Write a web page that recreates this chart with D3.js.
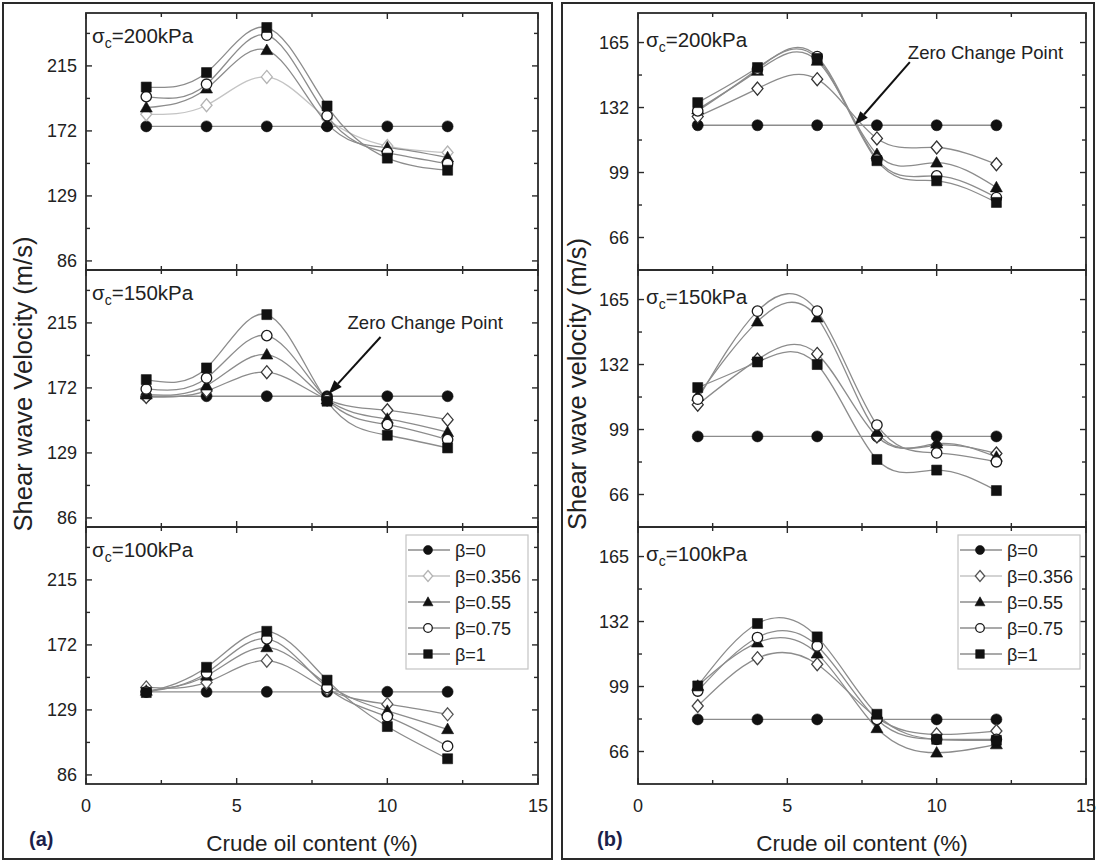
<!DOCTYPE html>
<html>
<head>
<meta charset="utf-8">
<script src="https://cdn.jsdelivr.net/npm/d3@7"></script>
<style>
  body { margin: 0; background: #fff; }
  svg { display: block; }
  text { font-family: "Liberation Sans", Arial, Helvetica, sans-serif; fill: #222; }
</style>
</head>
<body>
<svg id="chart" width="1099" height="862"></svg>
<script>
// ---- data -------------------------------------------------------------
const crudeOil = [2, 4, 6, 8, 10, 12];                 // crude oil content (%)
const betaLabels = ["β=0", "β=0.356", "β=0.55", "β=0.75", "β=1"];
const pressureLabels = ["200kPa", "150kPa", "100kPa"];

const xTicks = [0, 5, 10, 15];
const xMinorTicks = [2.5, 7.5, 12.5];
const yTicksA = [86, 129, 172, 215];
const yMinorA = [107.5, 150.5, 193.5, 236.5];
const yTicksB = [66, 99, 132, 165];
const yMinorB = [82.5, 115.5, 148.5];

// (a) shear wave velocity, one row per beta
const velA200 = [
  [175, 175, 175, 175, 175, 175],
  [183, 189, 207.7, 180, 162, 157.7],
  [187.4, 200, 225.4, 177, 161, 154.4],
  [194.7, 202.9, 235.3, 182, 157.7, 150.4],
  [201, 210.6, 240.4, 188.5, 154, 146]
];
const velA150 = [
  [166.5, 166.5, 166.5, 166.5, 166.5, 166.5],
  [166, 170, 182.4, 164.3, 157.2, 151],
  [167.6, 173.5, 194, 164.3, 151.5, 142.7],
  [171.3, 178.6, 206.6, 164.3, 147.7, 137.8],
  [177.5, 185.2, 220.5, 163.2, 140.7, 132.3]
];
const velA100 = [
  [141, 141, 141, 141, 141, 141],
  [143.9, 147.2, 161.6, 142.7, 132.8, 126.1],
  [141.6, 151.6, 170.4, 146, 128.3, 116.2],
  [141, 153.4, 176, 143.9, 124.6, 105],
  [140.5, 157.2, 181, 148.7, 118, 96.7]
];

// (b) shear wave velocity, one row per beta
const velB200 = [
  [123, 123, 123, 123, 123, 123],
  [127.4, 141.6, 146.4, 116.3, 111.7, 103.2],
  [131, 150.6, 155.7, 108.3, 104, 91.4],
  [130.3, 151.5, 157.9, 105.8, 97.3, 86.3],
  [134.5, 152.3, 156.9, 105, 94.8, 83.8]
];
const velB150 = [
  [95.5, 95.5, 95.5, 95.5, 95.5, 95.5],
  [111.6, 134.5, 137.4, 95.5, 91, 86.8],
  [116, 153.8, 155.8, 97.7, 91.8, 85.1],
  [114.4, 159.1, 159.1, 101.3, 87.1, 82.6],
  [120.3, 133.3, 132, 83.8, 78.4, 68]
];
const velB100 = [
  [82.3, 82.3, 82.3, 82.3, 82.3, 82.3],
  [89.1, 113.4, 110.3, 83.2, 74.7, 76.4],
  [99.3, 121.3, 115.7, 77.8, 65.4, 69.6],
  [96.7, 123.9, 119.6, 82.3, 72.2, 72.2],
  [99.3, 131, 124.2, 84.9, 72.2, 71.7]
];

// ---- layout ------------------------------------------------------------
const svg = d3.select("#chart");
const rowTops = [13, 270, 527];
const rowH = 257;

const panels = [
  {
    frame: [3, 3, 549, 856], x0: 86, x1: 538, yDomain: [80, 250],
    ticks: yTicksA, minor: yMinorA, rows: [velA200, velA150, velA100],
    yTitle: "Shear wave Velocity (m/s)", yTitleX: 32, tag: "(a)", tagX: 29,
    sigmaX: 92, sigmaDy: 30,
    diamondStroke: ["#b4b4b4", "#3a3a3a", "#555"], diamondLine: ["#c4c4c4", "#8c8c8c", "#8c8c8c"],
    legendX: 406, legendDiamond: "#b4b4b4",
    note: { row: 1, x: 8.05, y: 168, tail: [52, -57], text: [19, -65] }
  },
  {
    frame: [562, 3, 532, 856], x0: 638, x1: 1086, yDomain: [49.5, 180],
    ticks: yTicksB, minor: yMinorB, rows: [velB200, velB150, velB100],
    yTitle: "Shear wave velocity (m/s)", yTitleX: 586, tag: "(b)", tagX: 597,
    sigmaX: 646, sigmaDy: 34,
    diamondStroke: ["#333", "#333", "#444"], diamondLine: ["#8c8c8c", "#8c8c8c", "#8c8c8c"],
    legendX: 958, legendDiamond: "#555",
    note: { row: 0, x: 7.26, y: 123.1, tail: [55, -63], text: [53, -66] }
  }
];

// marker shapes
const shapes = [
  "M5.5,0A5.5,5.5,0,1,1,-5.5,0A5.5,5.5,0,1,1,5.5,0Z",      // filled circle
  "M0,-6.5L5.5,0L0,6.5L-5.5,0Z",                            // diamond
  "M0,-6.2L6,4.4L-6,4.4Z",                                  // triangle
  "M5.2,0A5.2,5.2,0,1,1,-5.2,0A5.2,5.2,0,1,1,5.2,0Z",      // open circle
  "M-5,-5H5V5H-5Z"                                          // square
];
const legendShapes = [
  "M4.5,0A4.5,4.5,0,1,1,-4.5,0A4.5,4.5,0,1,1,4.5,0Z",
  "M0,-5.5L4.7,0L0,5.5L-4.7,0Z",
  "M0,-5.2L5,3.8L-5,3.8Z",
  "M4.3,0A4.3,4.3,0,1,1,-4.3,0A4.3,4.3,0,1,1,4.3,0Z",
  "M-4.3,-4.3H4.3V4.3H-4.3Z"
];
function markerStyle(sel, i, diamondStroke) {
  if (i === 1) sel.attr("fill", "#fff").attr("stroke", diamondStroke).attr("stroke-width", 1.3);
  else if (i === 3) sel.attr("fill", "#fff").attr("stroke", "#1a1a1a").attr("stroke-width", 1.3);
  else sel.attr("fill", "#111").attr("stroke", "#111").attr("stroke-width", 0.6);
}

panels.forEach(p => {
  const g = svg.append("g");
  // outer frame
  g.append("rect").attr("x", p.frame[0]).attr("y", p.frame[1])
    .attr("width", p.frame[2]).attr("height", p.frame[3])
    .attr("fill", "none").attr("stroke", "#2a2a2a").attr("stroke-width", 2);

  const x = d3.scaleLinear().domain([0, 15]).range([p.x0, p.x1]);

  p.rows.forEach((series, r) => {
    const top = rowTops[r], bottom = top + rowH;
    const y = d3.scaleLinear().domain(p.yDomain).range([bottom, top]);
    const sg = g.append("g");

    // ticks on all four sides, pointing inward
    const tk = sg.append("g").attr("stroke", "#2a2a2a").attr("stroke-width", 1.4);
    xTicks.concat(xMinorTicks).forEach(v => {
      const len = xTicks.includes(v) ? 6 : 4;
      tk.append("line").attr("x1", x(v)).attr("x2", x(v)).attr("y1", bottom).attr("y2", bottom - len);
      tk.append("line").attr("x1", x(v)).attr("x2", x(v)).attr("y1", top).attr("y2", top + len);
    });
    p.ticks.concat(p.minor).forEach(v => {
      const len = p.ticks.includes(v) ? 6 : 4;
      tk.append("line").attr("x1", p.x0).attr("x2", p.x0 + len).attr("y1", y(v)).attr("y2", y(v));
      tk.append("line").attr("x1", p.x1).attr("x2", p.x1 - len).attr("y1", y(v)).attr("y2", y(v));
    });

    // y tick labels
    sg.selectAll("text.yl").data(p.ticks).join("text")
      .attr("x", p.x0 - 9).attr("y", d => y(d) + 6.5)
      .attr("text-anchor", "end").attr("font-size", 18).text(d => d);

    // curves
    const line = d3.line().x((d, i) => x(crudeOil[i])).y(d => y(d)).curve(d3.curveNatural);
    series.forEach((vals, i) => {
      sg.append("path").attr("d", line(vals)).attr("fill", "none")
        .attr("stroke", i === 1 ? p.diamondLine[r] : "#8c8c8c").attr("stroke-width", 1.3);
    });
    // markers
    series.forEach((vals, i) => {
      vals.forEach((v, k) => {
        const m = sg.append("path").attr("d", shapes[i])
          .attr("transform", `translate(${x(crudeOil[k])},${y(v)})`);
        markerStyle(m, i, p.diamondStroke[r]);
      });
    });

    // plot frame
    sg.append("rect").attr("x", p.x0).attr("y", top).attr("width", p.x1 - p.x0).attr("height", rowH)
      .attr("fill", "none").attr("stroke", "#2a2a2a").attr("stroke-width", 1.8);

    // confining pressure label
    const st = sg.append("text").attr("x", p.sigmaX).attr("y", top + p.sigmaDy).attr("font-size", 20.5);
    st.append("tspan").text("σ");
    st.append("tspan").attr("font-size", 14).attr("dy", 5).text("c");
    st.append("tspan").attr("dy", -5).text("=" + pressureLabels[r]);

    // zero change point annotation
    if (p.note.row === r) {
      const tx = x(p.note.x), ty = y(p.note.y);
      const sx = tx + p.note.tail[0], sy = ty + p.note.tail[1];
      const ang = Math.atan2(ty - sy, tx - sx);
      const hl = 14, hw = 5;
      const bx = tx - hl * Math.cos(ang), by = ty - hl * Math.sin(ang);
      sg.append("line").attr("x1", sx).attr("y1", sy).attr("x2", bx).attr("y2", by)
        .attr("stroke", "#111").attr("stroke-width", 2);
      sg.append("path").attr("fill", "#111")
        .attr("d", `M${tx},${ty}L${bx + hw * Math.sin(ang)},${by - hw * Math.cos(ang)}L${bx - hw * Math.sin(ang)},${by + hw * Math.cos(ang)}Z`);
      sg.append("text").attr("x", tx + p.note.text[0]).attr("y", ty + p.note.text[1])
        .attr("font-size", 18.5).text("Zero Change Point");
    }
  });

  // x tick labels
  g.selectAll("text.xl").data(xTicks).join("text")
    .attr("x", d => x(d)).attr("y", 812).attr("text-anchor", "middle").attr("font-size", 18).text(d => d);

  // axis titles
  g.append("text").attr("x", (p.x0 + p.x1) / 2).attr("y", 851).attr("text-anchor", "middle")
    .attr("font-size", 22.5).text("Crude oil content (%)");
  g.append("text").attr("transform", `translate(${p.yTitleX},384) rotate(-90)`)
    .attr("text-anchor", "middle").attr("font-size", 25.5).text(p.yTitle);
  g.append("text").attr("x", p.tagX).attr("y", 846).attr("font-size", 20).attr("font-weight", "bold")
    .style("fill", "#1c1f4a").text(p.tag);

  // legend
  const lx = p.legendX, ly = 535;
  const lg = g.append("g");
  lg.append("rect").attr("x", lx).attr("y", ly).attr("width", 122).attr("height", 134)
    .attr("fill", "#fff").attr("stroke", "#c4c4c4").attr("stroke-width", 1.2);
  betaLabels.forEach((lab, i) => {
    const cy = ly + 15 + i * 26;
    lg.append("line").attr("x1", lx + 2).attr("x2", lx + 44).attr("y1", cy).attr("y2", cy)
      .attr("stroke", i === 1 ? "#c4c4c4" : "#8c8c8c").attr("stroke-width", 1.3);
    const m = lg.append("path").attr("d", legendShapes[i]).attr("transform", `translate(${lx + 22},${cy})`);
    markerStyle(m, i, p.legendDiamond);
    lg.append("text").attr("x", lx + 49).attr("y", cy + 6.5).attr("font-size", 18).text(lab);
  });
});
</script>
</body>
</html>
